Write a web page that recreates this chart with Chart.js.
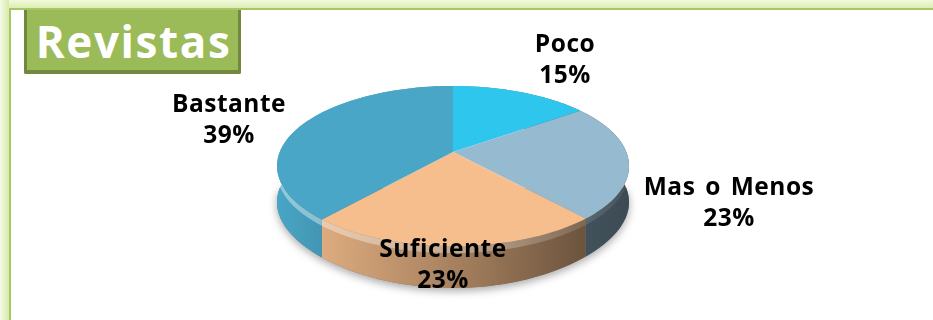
<!DOCTYPE html>
<html>
<head>
<meta charset="utf-8">
<style>
html, body { margin: 0; padding: 0; background: #fff; }
#frame { position: relative; width: 933px; height: 320px; overflow: hidden; background: #fff; }
#bandTop { position: absolute; left: 0; top: 0; width: 933px; height: 8px; background: linear-gradient(#f2f9df, #dcedb0); }
#bandLeft { position: absolute; left: 0; top: 0; width: 9px; height: 320px; background: linear-gradient(90deg, #f4faea, #d8eaa8); }
#lineTop { position: absolute; left: 9px; top: 8px; width: 924px; height: 2px; background: #a6c667; }
#lineLeft { position: absolute; left: 9px; top: 8px; width: 2px; height: 312px; background: #a6c667; }
#titleBox { position: absolute; left: 24px; top: 10px; width: 211px; height: 60px; background: #9bbb59; border: solid #71893f; border-width: 0 3px 4px 3px; border-radius: 0 0 2px 2px;
  color: #fff; font: bold 44px "Open Sans", sans-serif; letter-spacing: 1.6px; line-height: 62px; text-align: center; text-indent: 2px; }
canvas { position: absolute; left: 0; top: 0; }
</style>
</head>
<body>
<div id="frame">
  <div id="bandTop"></div>
  <div id="bandLeft"></div>
  <div id="lineTop"></div>
  <div id="lineLeft"></div>
  <div id="titleBox">Revistas</div>
  <canvas id="myChart" width="933" height="320"></canvas>
</div>
<script src="https://cdn.jsdelivr.net/npm/chart.js@4"></script>
<script>
const categories = ['Poco', 'Mas o Menos', 'Suficiente', 'Bastante'];
const values = [15, 23.4, 23, 38.6];
const sliceColors = ['#2fc6ee', '#96bbd0', '#f6be8c', '#49a6c6'];
const labelSpots = [[565, 60], [729, 203], [443, 265], [229, 120]];

// the tilted disc: apex, perspective and wall depth
const apexX = 453, apexY = 152, spanX = 173.3, spanY = 51, tilt = 0.175, depth = 42;

function project(angle, drop) {
    const u = Math.cos(angle), v = Math.sin(angle), d = 1 - tilt * v;
    // the wall looks a bit shorter away from the very front
    const wall = (drop || 0) * (0.86 + 0.14 * Math.pow(Math.max(v, 0), 4));
    return [apexX + spanX * u / d, (apexY + spanY * v) / d + wall];
}
function shade(hex, f) {
    const n = parseInt(hex.slice(1), 16);
    return 'rgb(' + Math.round((n >> 16) * f) + ',' + Math.round(((n >> 8) & 255) * f) + ',' + Math.round((n & 255) * f) + ')';
}
function edge(ctx, a0, a1, drop) {
    const steps = 60;
    for (let i = 0; i <= steps; i++) {
        const p = project(a0 + (a1 - a0) * i / steps, drop);
        ctx.lineTo(p[0], p[1]);
    }
}

const tiltedPie = {
    id: 'tiltedPie',
    beforeDatasetsDraw(chart) {
        const ctx = chart.ctx;
        const arcs = chart.getDatasetMeta(0).data;
        ctx.save();
        // soft shadow under the disc
        ctx.shadowColor = 'rgba(0,0,0,0.35)';
        ctx.shadowBlur = 8;
        ctx.shadowOffsetY = 3;
        ctx.fillStyle = '#777';
        ctx.beginPath();
        edge(ctx, 0, Math.PI, depth);
        ctx.closePath();
        ctx.fill();
        ctx.shadowColor = 'transparent';
        arcs.forEach((arc, i) => {
            const g = ctx.createLinearGradient(277, 0, 630, 0);
            g.addColorStop(0, shade(sliceColors[i], 1));
            g.addColorStop(0.13, shade(sliceColors[i], 0.9));
            g.addColorStop(0.5, shade(sliceColors[i], 0.68));
            g.addColorStop(0.87, shade(sliceColors[i], 0.44));
            g.addColorStop(1, shade(sliceColors[i], 0.4));
            ctx.fillStyle = g;
            ctx.beginPath();
            edge(ctx, arc.startAngle, arc.endAngle, 0);
            edge(ctx, arc.endAngle, arc.startAngle, depth);
            ctx.closePath();
            ctx.fill();
            // lit bevel along the rim
            const r = ctx.createLinearGradient(277, 0, 630, 0);
            r.addColorStop(0, 'rgba(255,255,255,0.4)');
            r.addColorStop(0.5, 'rgba(255,255,255,0.32)');
            r.addColorStop(1, 'rgba(255,255,255,0.05)');
            ctx.fillStyle = r;
            ctx.beginPath();
            edge(ctx, arc.startAngle, arc.endAngle, 0);
            edge(ctx, arc.endAngle, arc.startAngle, 7);
            ctx.closePath();
            ctx.fill();
        });
        arcs.forEach((arc, i) => {
            ctx.fillStyle = sliceColors[i];
            ctx.beginPath();
            ctx.moveTo(apexX, apexY);
            edge(ctx, arc.startAngle, arc.endAngle, 0);
            ctx.closePath();
            ctx.fill();
        });
        ctx.restore();
        return false;
    },
    afterDraw(chart) {
        const ctx = chart.ctx;
        ctx.save();
        ctx.fillStyle = '#000';
        ctx.font = 'bold 24.5px "Open Sans", sans-serif';
        ctx.letterSpacing = '0.5px';
        ctx.wordSpacing = '3px';
        ctx.textAlign = 'center';
        ctx.textBaseline = 'middle';
        categories.forEach((name, i) => {
            ctx.fillText(name, labelSpots[i][0], labelSpots[i][1] - 15);
            ctx.fillText(Math.round(values[i]) + '%', labelSpots[i][0], labelSpots[i][1] + 16);
        });
        ctx.restore();
    }
};

new Chart(document.getElementById('myChart').getContext('2d'), {
    type: 'pie',
    data: {
        labels: categories,
        datasets: [{ data: values, backgroundColor: sliceColors, borderWidth: 0 }]
    },
    options: {
        responsive: false,
        animation: false,
        plugins: { legend: { display: false }, tooltip: { enabled: false } }
    },
    plugins: [tiltedPie]
});
</script>
</body>
</html>
